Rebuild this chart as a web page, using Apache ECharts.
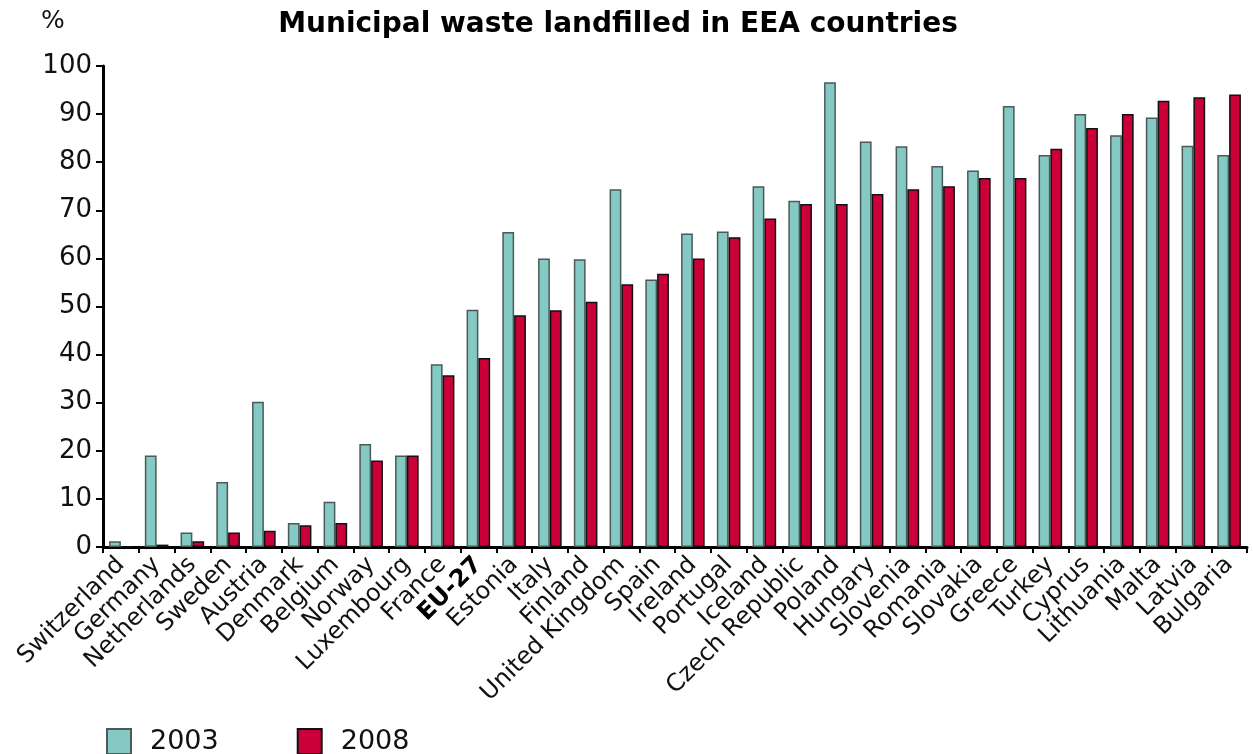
<!DOCTYPE html>
<html lang="en">
<head>
    <meta charset="UTF-8">
    <title>Municipal waste landfilled in EEA countries</title>
    <script src="https://cdn.jsdelivr.net/npm/echarts@6/dist/echarts.min.js"></script>
    <style>
        html, body { margin: 0; padding: 0; background: #fff; }
    </style>
</head>
<body>
    <div id="main" style="width: 1253px;height:754px;"></div>

    <script type="text/javascript">
        // categories and values (% landfilled)
        var countries = ['Switzerland', 'Germany', 'Netherlands', 'Sweden', 'Austria', 'Denmark', 'Belgium',
            'Norway', 'Luxembourg', 'France', 'EU-27', 'Estonia', 'Italy', 'Finland', 'United Kingdom',
            'Spain', 'Ireland', 'Portugal', 'Iceland', 'Czech Republic', 'Poland', 'Hungary', 'Slovenia',
            'Romania', 'Slovakia', 'Greece', 'Turkey', 'Cyprus', 'Lithuania', 'Malta', 'Latvia', 'Bulgaria'];
        var values2003 = [1.2, 19, 3, 13.5, 30.2, 5, 9.4, 21.4, 19, 38, 49.3, 65.5, 60, 59.8, 74.4,
            55.6, 65.2, 65.6, 75, 72, 96.6, 84.3, 83.3, 79.2, 78.3, 91.7, 81.5, 90, 85.6, 89.3, 83.4, 81.5];
        var values2008 = [0, 0.5, 1.2, 3, 3.4, 4.5, 5, 18, 19, 35.7, 39.3, 48.2, 49.2, 51, 54.6,
            56.8, 60, 64.4, 68.3, 71.3, 71.3, 73.4, 74.4, 75, 76.7, 76.7, 82.8, 87.1, 90, 92.8, 93.5, 94.1];
        var years = ['2003', '2008'];
        var yTicks = [0, 10, 20, 30, 40, 50, 60, 70, 80, 90, 100];

        var myChart = echarts.init(document.getElementById('main'));
        var font = 'DejaVu Sans, Verdana, sans-serif';

        var option = {
            animation: false,
            backgroundColor: '#ffffff',
            title: [{
                text: 'Municipal waste landfilled in EEA countries',
                left: 613,
                top: 6,
                textAlign: 'center',
                textStyle: { fontFamily: font, fontSize: 28, fontWeight: 'bold', color: '#000' }
            }, {
                text: '%',
                left: 36,
                top: 4,
                textStyle: { fontFamily: font, fontSize: 25, fontWeight: 'normal', color: '#111' }
            }],
            legend: {
                data: years,
                left: 101,
                top: 723,
                icon: 'rect',
                itemWidth: 24,
                itemHeight: 25,
                itemGap: 78,
                textStyle: { fontFamily: font, fontSize: 27, color: '#111', padding: [0, 0, 0, 14] }
            },
            grid: { left: 103, right: 6, top: 66, bottom: 207, containLabel: false },
            xAxis: {
                type: 'category',
                data: countries,
                boundaryGap: true,
                axisLine: { lineStyle: { color: '#000', width: 3 } },
                axisTick: { show: true, alignWithLabel: false, length: 6, lineStyle: { color: '#000', width: 2 } },
                axisLabel: {
                    interval: 0,
                    rotate: 45,
                    margin: 14,
                    fontFamily: font,
                    fontSize: 24,
                    color: '#111',
                    formatter: function (v) { return v === 'EU-27' ? '{b|' + v + '}' : v; },
                    rich: { b: { fontFamily: font, fontSize: 24, fontWeight: 'bold', color: '#000' } }
                }
            },
            yAxis: {
                type: 'value',
                min: yTicks[0],
                max: yTicks[yTicks.length - 1],
                interval: yTicks[1] - yTicks[0],
                axisLine: { show: true, lineStyle: { color: '#000', width: 3 } },
                axisTick: { show: true, length: 7, lineStyle: { color: '#000', width: 2 } },
                splitLine: { show: false },
                axisLabel: { fontFamily: font, fontSize: 26, color: '#111', margin: 11 }
            },
            series: [{
                name: years[0],
                type: 'bar',
                data: values2003,
                barGap: '0%',
                barCategoryGap: '34%',
                itemStyle: { color: '#85c9c4', borderColor: '#4a5a58', borderWidth: 1.5 }
            }, {
                name: years[1],
                type: 'bar',
                data: values2008,
                barGap: '0%',
                barCategoryGap: '34%',
                itemStyle: { color: '#cc0038', borderColor: '#111', borderWidth: 1.5 }
            }]
        };

        myChart.setOption(option);
    </script>
</body>
</html>
